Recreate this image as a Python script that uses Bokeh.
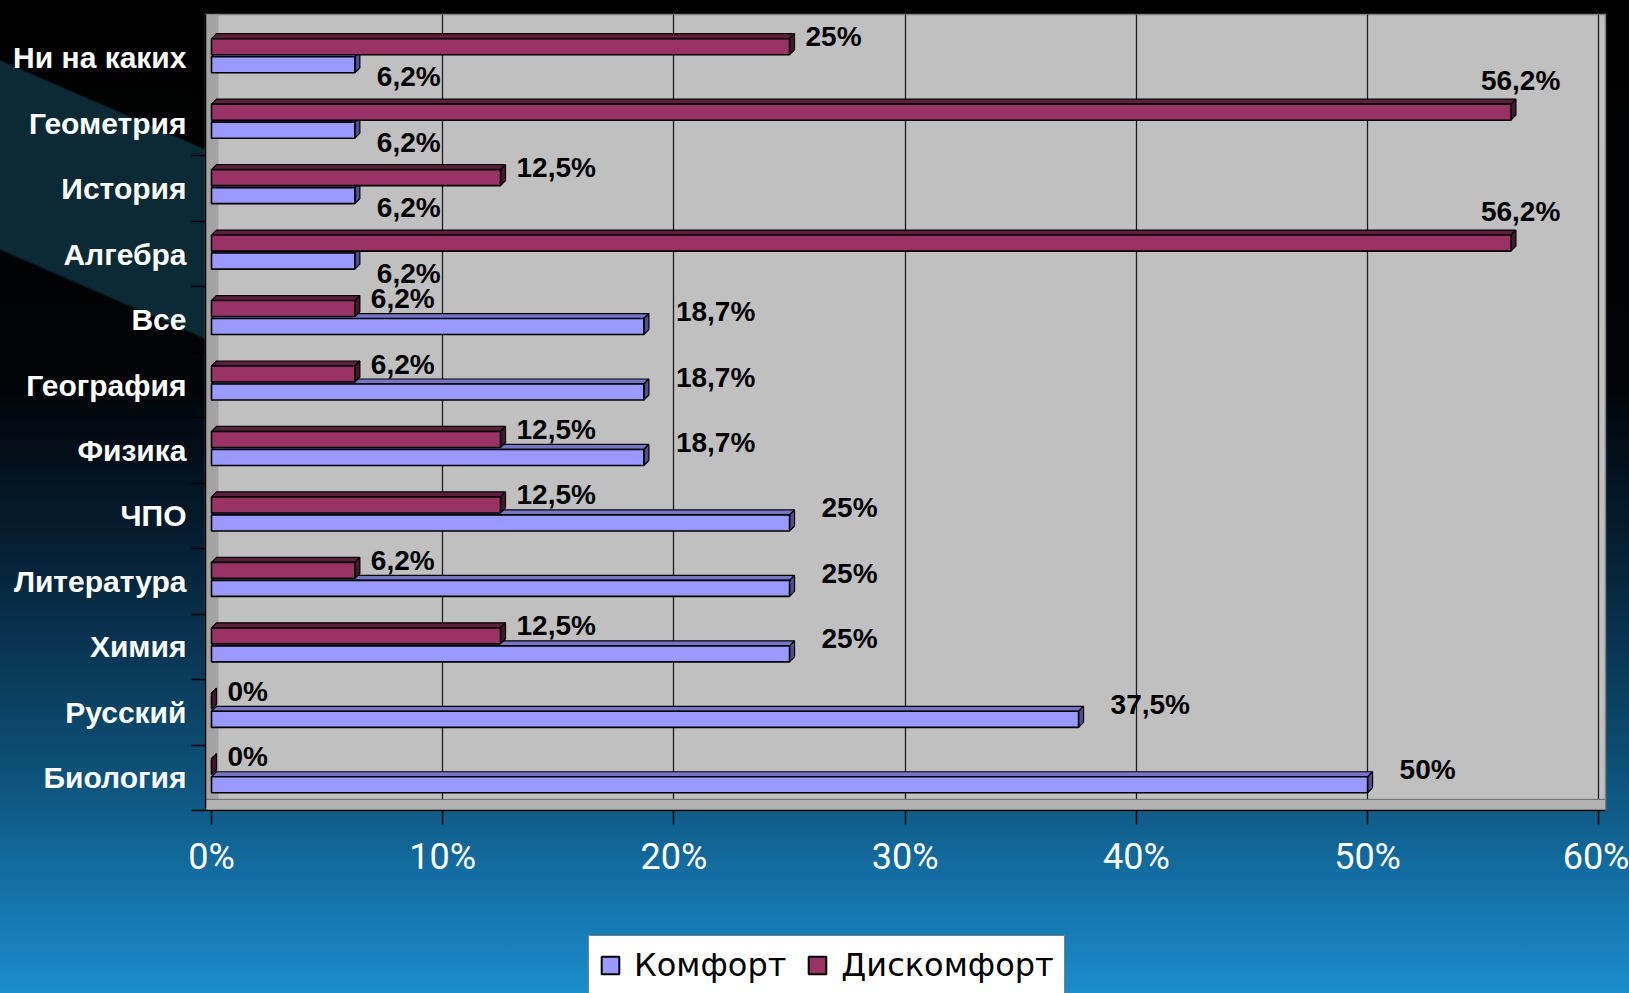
from bokeh.plotting import figure
from bokeh.models import Range1d, FixedTicker, Legend, LegendItem
from bokeh.layouts import column
from bokeh.embed import file_html
from bokeh.resources import INLINE
from bokeh.core.properties import value

# ---------------- data ----------------
categories = ["Ни на каких", "Геометрия", "История", "Алгебра", "Все", "География",
              "Физика", "ЧПО", "Литература", "Химия", "Русский", "Биология"]
comfort = [6.2, 6.2, 6.2, 6.2, 18.7, 18.7, 18.7, 25, 25, 25, 37.5, 50]
discomfort = [25, 56.2, 12.5, 56.2, 6.2, 6.2, 12.5, 12.5, 6.2, 12.5, 0, 0]
series_names = ["Комфорт", "Дискомфорт"]
x_ticks = [0, 10, 20, 30, 40, 50, 60]
x_tick_labels = ["0%", "10%", "20%", "30%", "40%", "50%", "60%"]

# ---------------- layout ----------------
W, H_MAIN, H_LEG = 1629, 930, 63
ML, MR, MT, MB = 205, 24, 14, 120
X0, X1 = -0.26, 60.29
Y0, Y1 = 0.0, 12.16
FW, FH = W - ML - MR, H_MAIN - MT - MB
PX = FW / (X1 - X0)   # pixels per percent
PY = FH / (Y1 - Y0)   # pixels per category

p = figure(width=W, height=H_MAIN, x_range=Range1d(X0, X1), y_range=Range1d(Y0, Y1),
           output_backend="svg", toolbar_location=None,
           min_border_left=ML, min_border_right=MR, min_border_top=MT, min_border_bottom=MB)
p.background_fill_color = "#c0c0c0"
p.border_fill_color = None
p.outline_line_color = "#808080"
p.outline_line_width = 1.5

n = len(categories)
ycat = [n - 0.5 - i for i in range(n)]

# axes
p.xaxis.ticker = FixedTicker(ticks=x_ticks)
p.xaxis.major_label_overrides = {t: lab for t, lab in zip(x_ticks, x_tick_labels)}
p.xaxis.major_tick_out = 14
p.xaxis.major_tick_in = 0
p.xaxis.major_tick_line_color = "black"
p.xaxis.major_tick_line_width = 1.5
p.xaxis.axis_line_color = "black"
p.xaxis.axis_line_width = 1.5
p.xaxis.major_label_text_color = "white"
p.xaxis.major_label_text_font = "Roboto"
p.xaxis.major_label_text_font_size = "36px"
p.xaxis.major_label_standoff = 11

p.yaxis.ticker = FixedTicker(ticks=ycat, minor_ticks=list(range(n + 1)))
p.yaxis.major_label_overrides = {y: c for y, c in zip(ycat, categories)}
p.yaxis.major_tick_out = 0
p.yaxis.major_tick_in = 0
p.yaxis.minor_tick_out = 14
p.yaxis.minor_tick_in = 0
p.yaxis.minor_tick_line_color = "black"
p.yaxis.minor_tick_line_width = 1.5
p.yaxis.axis_line_color = "black"
p.yaxis.axis_line_width = 1.5
p.yaxis.major_label_text_color = "white"
p.yaxis.major_label_text_font = "Liberation Sans"
p.yaxis.major_label_text_font_style = "bold"
p.yaxis.major_label_text_font_size = "30px"
p.yaxis.major_label_standoff = 5

p.xgrid.ticker = FixedTicker(ticks=x_ticks)
p.xgrid.grid_line_color = "#1e1e1e"
p.xgrid.grid_line_width = 1.3
p.ygrid.grid_line_color = None

# 3-D walls (decoration)
p.quad(left=[X0], right=[0.3], bottom=[Y0], top=[Y1], fill_color="#a3a3a3", line_color=None)
p.quad(left=[X0], right=[X1], bottom=[Y0], top=[0.17], fill_color="#b3b3b3",
       line_color="#6a6a6a", line_width=1)

# ---------------- bars ----------------
HB = 0.245
DX = 5 / PX
DY = 5 / PY
OFF_D, OFF_C = 0.168, -0.107


def faces(vals, centers):
    tx, ty, sx, sy = [], [], [], []
    for v, c in zip(vals, centers):
        t, b = c + HB / 2, c - HB / 2
        tx.append([0, v, v + DX, DX])
        ty.append([t, t, t + DY, t + DY])
        sx.append([v, v, v + DX, v + DX])
        sy.append([b, t, t + DY, b + DY])
    return tx, ty, sx, sy


yc_c = [y + OFF_C for y in ycat]
yc_d = [y + OFF_D for y in ycat]

styles = {
    "c": dict(front="#9999ff", top="#7676c6", side="#4f4f8f"),
    "d": dict(front="#993366", top="#5e1f3f", side="#47172f"),
}

for key, vals, yc in (("c", comfort, yc_c), ("d", discomfort, yc_d)):
    tx, ty, sx, sy = faces(vals, yc)
    st = styles[key]
    p.patches(tx, ty, fill_color=st["top"], line_color="black", line_width=1.2)
    p.patches(sx, sy, fill_color=st["side"], line_color="black", line_width=1.2)
    p.hbar(y=yc, left=0, right=vals, height=HB, fill_color=st["front"],
           line_color="black", line_width=1.6)


def fmt(v):
    return f"{v:g}".replace(".", ",") + "%"


# labels for Дискомфорт
dx_off, dy_off = [], []
for v in discomfort:
    if (X1 - v) * PX < 16 + 92:
        dx_off.append(-30); dy_off.append(-32)
    else:
        dx_off.append(16); dy_off.append(-10)
# labels for Комфорт
cx_off, cy_off = [], []
for vc, vd in zip(comfort, discomfort):
    if vd >= vc:
        cx_off.append(22); cy_off.append(12)
    else:
        cx_off.append(32); cy_off.append(-15)

lab_kw = dict(text_font=value("Liberation Sans"), text_font_style="bold", text_font_size="28px",
              text_color="black", text_baseline="middle", text_align="left")
p.text(x=comfort, y=yc_c, text=[fmt(v) for v in comfort], x_offset=cx_off, y_offset=cy_off, **lab_kw)
p.text(x=discomfort, y=yc_d, text=[fmt(v) for v in discomfort], x_offset=dx_off, y_offset=dy_off, **lab_kw)

# ---------------- legend strip (second figure) ----------------
q = figure(width=W, height=H_LEG, x_range=Range1d(0, 1), y_range=Range1d(0, 1),
           output_backend="svg", toolbar_location=None, x_axis_type=None, y_axis_type=None,
           min_border_left=0, min_border_right=0, min_border_top=0, min_border_bottom=0)
q.background_fill_color = None
q.border_fill_color = None
q.outline_line_color = None
q.xgrid.visible = False
q.ygrid.visible = False
# swatch renderers (kept outside the visible range; only their legend swatches show)
lr_c = q.quad(left=[-3], right=[-2], bottom=[-3], top=[-2], fill_color=styles["c"]["front"],
              line_color="black", line_width=2)
lr_d = q.quad(left=[-3], right=[-2], bottom=[-3], top=[-2], fill_color=styles["d"]["front"],
              line_color="black", line_width=2)

legend = Legend(items=[LegendItem(label=series_names[0], renderers=[lr_c]),
                       LegendItem(label=series_names[1], renderers=[lr_d])],
                location=(383, -2), orientation="horizontal")
legend.glyph_width = 22
legend.glyph_height = 22
legend.label_standoff = 13
legend.spacing = 20
legend.padding = 10
legend.margin = 0
legend.border_line_color = "black"
legend.border_line_width = 1.5
legend.background_fill_color = "white"
legend.background_fill_alpha = 1
legend.label_text_font = "DejaVu Sans"
legend.label_text_font_size = "32px"
legend.label_text_color = "black"
q.add_layout(legend, "center")

css = """<style>
html { min-height: 100%; background-color: #000;
  background-image:
    linear-gradient(203.5deg, rgba(0,0,0,0) 24.6%, #0b2a36 25%, #0b2a36 55.5%, rgba(0,0,0,0) 56%),
    linear-gradient(180deg, #000000 0%, #010306 38%, #04192a 52%, #093452 65%, #0d5279 78%, #1470a6 89%, #1b8dcb 100%);
  background-repeat: no-repeat, no-repeat;
  background-size: 210px 520px, 100% 100%;
  background-position: 0 0, 0 0; }
body { background: transparent; }
</style>"""

layout = column(p, q, spacing=0)
html = file_html(layout, INLINE, title="chart")
html = html.replace("</head>", css + "</head>", 1)
open("out.html", "w").write(html)
